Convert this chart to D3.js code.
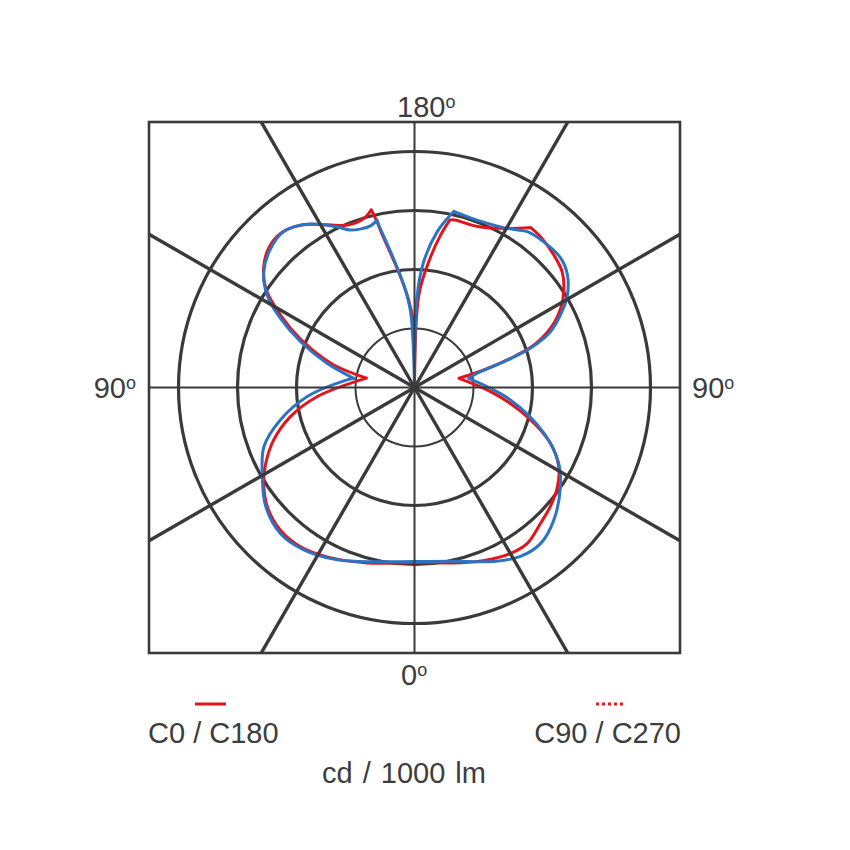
<!DOCTYPE html>
<html>
<head>
<meta charset="utf-8">
<script src="https://cdn.jsdelivr.net/npm/d3@7"></script>
<style>
  html, body { margin: 0; padding: 0; background: #fff; }
  svg { display: block; }
  text { font-family: "Liberation Sans", Arial, sans-serif; fill: #3d3d3d; }
</style>
</head>
<body>
<svg id="chart" width="850" height="850"></svg>
<script>
// ---- data (cd / 1000 lm, polar angle from nadir in degrees) ----
const ringValues = [100, 200, 300, 400];
const spokeAngles = [0, 30, 60, 90, 120, 150, 180, 210, 240, 270, 300, 330];
const angleLabels = ["0", "90", "180", "90"];
const legendLabels = ["C0 / C180", "C90 / C270"];
const unitLabel = "cd / 1000 lm";

// C0 (right half, red)
const c0Angles = [0, 14.7, 22.8, 30.1, 35.9, 42.9, 48.8, 55.2, 61.2, 67.7, 75.5, 85.8, 101.7, 104.2, 106.9, 109.6, 113.5, 118.5, 123.6, 128.1, 133.6, 140.1, 144.1, 149.8, 158.7, 166.5, 168.1, 170.3, 173.5, 177.3, 180];
const c0Values = [297, 307, 317, 325, 326, 314, 306, 295, 279, 249, 197, 135, 77, 121, 170, 215, 251, 282, 304, 318, 326, 333, 335, 312, 293, 292, 290, 262, 215, 157, 0];
const c0Corners = [101.7, 144.1, 168.1, 180];
// C180 (left half, red)
const c180Angles = [0, 15.1, 27.3, 35.6, 43.2, 51, 58.5, 63, 69.5, 76.8, 84.6, 101, 105.6, 110.6, 115.5, 120.4, 123.7, 128.3, 133.7, 139, 145, 151.8, 157.5, 163.3, 166.3, 167, 168.4, 171.7, 175.5, 178.9, 180];
const c180Values = [297, 308, 323, 332, 332, 321, 300, 283, 255, 216, 166, 83, 142, 188, 233, 276, 303, 326, 342, 346, 336, 313, 298, 299, 310, 294, 258, 204, 157, 112, 0];
const c180Corners = [101, 166.3];
// C90 (right half, blue)
const c90Angles = [0, 12, 24.5, 32.1, 39, 46.4, 55.8, 62.3, 70.5, 82.6, 99.5, 102.8, 106.1, 108.7, 112.3, 117.2, 121.2, 126.4, 131.5, 138.4, 144.1, 149.8, 159.5, 167.4, 171.7, 175.8, 178.3, 180];
const c90Values = [295, 301, 324, 338, 340, 326, 299, 276, 233, 164, 93, 109, 158, 207, 249, 281, 303, 322, 331, 330, 326, 312, 303, 306, 267, 214, 157, 0];
const c90Corners = [99.5, 167.4, 180];
// C270 (left half, blue)
const c270Angles = [0, 12, 24.1, 34.3, 42.6, 51.3, 59.6, 68.6, 76.4, 85.1, 96.4, 98.6, 105.5, 111.9, 117.3, 122.1, 127.5, 134, 140, 146.7, 154.3, 157.9, 164.8, 167.4, 167.6, 170, 174, 177, 180];
const c270Values = [295, 302, 320, 333, 336, 323, 299, 274, 234, 183, 115, 104, 154, 208, 256, 295, 322, 339, 345, 331, 302, 288, 284, 291, 282, 234, 175, 129, 0];
const c270Corners = [98.6, 167.4];

// ---- layout ----
const cx = 414.5, cy = 387.5;
const half = 265.5;            // half size of the square frame
const rMaxValue = 450;         // value at frame half-size
const gridColor = "#3a3a3a";
const redColor = "#e3141c";
const blueColor = "#2b74c4";

const svg = d3.select("#chart");
const r = d3.scaleLinear().domain([0, rMaxValue]).range([0, half]);

svg.append("defs").append("clipPath").attr("id", "frameClip")
  .append("rect").attr("x", cx - half).attr("y", cy - half)
  .attr("width", half * 2).attr("height", half * 2);

const g = svg.append("g").attr("transform", `translate(${cx},${cy})`);
const grid = svg.append("g").attr("clip-path", "url(#frameClip)")
  .append("g").attr("transform", `translate(${cx},${cy})`);

// spokes (angle from nadir, drawn across to the frame)
const toRad = d => d * Math.PI / 180;
grid.selectAll("line.spoke").data(spokeAngles).join("line")
  .attr("class", "spoke")
  .attr("x1", 0).attr("y1", 0)
  .attr("x2", d => Math.sin(toRad(d)) * half * 2)
  .attr("y2", d => Math.cos(toRad(d)) * half * 2)
  .attr("stroke", gridColor)
  .attr("stroke-width", d => (d % 90 === 0) ? 2 : 3.4);

// rings
g.selectAll("circle.ring").data(ringValues).join("circle")
  .attr("class", "ring")
  .attr("r", d => r(d))
  .attr("fill", "none")
  .attr("stroke", gridColor)
  .attr("stroke-width", (d, i) => i === 0 ? 2 : 3.2);

// frame
g.append("rect")
  .attr("x", -half).attr("y", -half)
  .attr("width", half * 2).attr("height", half * 2)
  .attr("fill", "none").attr("stroke", gridColor).attr("stroke-width", 2.6);

// curves: right half uses angle PI - theta, left half PI + theta
function loopPoints(rA, rV, rC, lA, lV, lC) {
  const pts = [];
  rA.forEach((a, i) => pts.push({ a: Math.PI - toRad(a), r: r(rV[i]), c: rC.includes(a) }));
  for (let i = lA.length - 2; i >= 1; i--)
    pts.push({ a: Math.PI + toRad(lA[i]), r: r(lV[i]), c: lC.includes(lA[i]) });
  return pts;
}
const smooth = d3.lineRadial().angle(d => d.a).radius(d => d.r)
  .curve(d3.curveCatmullRom.alpha(0.5));
function pathWithCorners(pts) {
  const start = pts.findIndex(p => p.c);
  const rot = pts.slice(start).concat(pts.slice(0, start));
  rot.push(rot[0]);
  let d = "", seg = [rot[0]];
  for (let i = 1; i < rot.length; i++) {
    seg.push(rot[i]);
    if (rot[i].c) { d += smooth(seg); seg = [rot[i]]; }
  }
  return d;
}

g.append("path")
  .attr("d", pathWithCorners(loopPoints(c0Angles, c0Values, c0Corners, c180Angles, c180Values, c180Corners)))
  .attr("fill", "none").attr("stroke", redColor).attr("stroke-width", 3)
  .attr("stroke-linejoin", "round").attr("stroke-linecap", "round");
g.append("path")
  .attr("d", pathWithCorners(loopPoints(c90Angles, c90Values, c90Corners, c270Angles, c270Values, c270Corners)))
  .attr("fill", "none").attr("stroke", blueColor).attr("stroke-width", 3)
  .attr("stroke-linejoin", "round").attr("stroke-linecap", "round");

// angle labels with raised "o"
const fs = 29;
function degLabel(x, y, txt, anchor) {
  const t = svg.append("text").attr("x", x).attr("y", y)
    .attr("font-size", fs).attr("text-anchor", anchor);
  t.append("tspan").text(txt);
  t.append("tspan").attr("font-size", fs * 0.62).attr("dy", -9).text("o");
  return t;
}
degLabel(397, 117, angleLabels[2], "start");
degLabel(401, 685, angleLabels[0], "start");
degLabel(136, 398, angleLabels[1], "end");
degLabel(692, 398, angleLabels[3], "start");

// legend
svg.append("line").attr("x1", 195).attr("x2", 226).attr("y1", 704).attr("y2", 704)
  .attr("stroke", redColor).attr("stroke-width", 3);
svg.append("line").attr("x1", 596).attr("x2", 626).attr("y1", 704).attr("y2", 704)
  .attr("stroke", redColor).attr("stroke-width", 3).attr("stroke-dasharray", "3,3");
svg.append("text").attr("x", 148).attr("y", 743).attr("font-size", fs).text(legendLabels[0]);
svg.append("text").attr("x", 681).attr("y", 743).attr("font-size", fs)
  .attr("text-anchor", "end").text(legendLabels[1]);
svg.append("text").attr("x", 322).attr("y", 783).attr("font-size", fs)
  .attr("word-spacing", 2).text(unitLabel);
</script>
</body>
</html>
